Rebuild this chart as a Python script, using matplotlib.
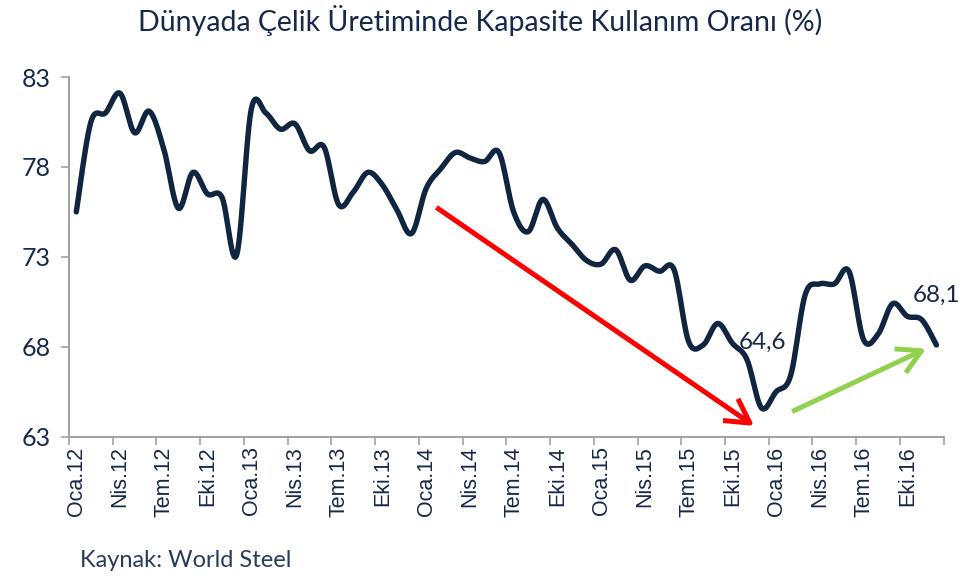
import numpy as np
import matplotlib
matplotlib.use('Agg')
import matplotlib.pyplot as plt

# aylik kapasite kullanim orani, Oca.12 - Ara.16
values = [75.5, 80.5, 81.0, 82.1, 79.9, 81.1, 79.0, 75.7, 77.7, 76.5, 76.3, 73.1,
          81.2, 81.0, 80.1, 80.4, 78.9, 79.1, 75.9, 76.6, 77.7, 77.0, 75.6, 74.3,
          76.8, 77.9, 78.8, 78.5, 78.3, 78.8, 75.5, 74.4, 76.2, 74.6, 73.7, 72.8,
          72.6, 73.4, 71.7, 72.5, 72.2, 72.3, 68.3, 68.1, 69.3, 68.2, 67.3, 64.6,
          65.5, 66.4, 70.9, 71.5, 71.5, 72.2, 68.4, 68.7, 70.4, 69.7, 69.5, 68.1]
tick_labels = ['Oca.12', 'Nis.12', 'Tem.12', 'Eki.12', 'Oca.13', 'Nis.13', 'Tem.13', 'Eki.13',
               'Oca.14', 'Nis.14', 'Tem.14', 'Eki.14', 'Oca.15', 'Nis.15', 'Tem.15', 'Eki.15',
               'Oca.16', 'Nis.16', 'Tem.16', 'Eki.16']
yticks = [63, 68, 73, 78, 83]
labelled = {47: '64,6', 59: '68,1'}
red_arrow = [(24.7, 75.75), (46.5, 63.6)]
green_arrow = [(49.1, 64.4), (58.3, 67.9)]

NAVY = '#0f2540'
TXT = '#17294a'
GRAY = '#a0a0a0'


def smooth(x, y, n=12):
    # excel tarzi yumusatma (bezier, 1/6 kontrol noktalari)
    x = np.asarray(x, float)
    y = np.asarray(y, float)
    px = np.concatenate([[x[0]], x, [x[-1]]])
    py = np.concatenate([[y[0]], y, [y[-1]]])
    xs, ys = [x[0]], [y[0]]
    t = np.linspace(0, 1, n + 1)[1:]
    for i in range(1, len(px) - 2):
        p0 = np.array([px[i], py[i]])
        p3 = np.array([px[i + 1], py[i + 1]])
        c1 = p0 + (p3 - np.array([px[i - 1], py[i - 1]])) / 6
        c2 = p3 - (np.array([px[i + 2], py[i + 2]]) - p0) / 6
        for tt in t:
            b = ((1 - tt) ** 3) * p0 + 3 * ((1 - tt) ** 2) * tt * c1 + 3 * (1 - tt) * tt ** 2 * c2 + tt ** 3 * p3
            xs.append(b[0])
            ys.append(b[1])
    return xs, ys


fig = plt.figure(figsize=(9.61, 5.79), dpi=100)
ax = fig.add_axes([0.0718, 0.2457, 0.9102, 0.6213])

idx = np.arange(len(values))
sx, sy = smooth(idx, values)
ax.plot(sx, sy, color=NAVY, lw=3.9, solid_capstyle='round', solid_joinstyle='round', zorder=3)

for i, txt in labelled.items():
    off = (1, 47) if i == 47 else (0, 36)
    ax.annotate(txt, (i, values[i]), xytext=off, textcoords='offset points',
                ha='center', va='center', fontsize=17.5, color=TXT, family='Lato',
                annotation_clip=False)

for (x0, y0), (x1, y1), c in [(red_arrow[0], red_arrow[1], '#ff0000'),
                              (green_arrow[0], green_arrow[1], '#92d050')]:
    ax.annotate('', xy=(x1, y1), xytext=(x0, y0),
                arrowprops=dict(arrowstyle='->,head_length=1.7,head_width=0.95',
                                color=c, lw=3.6, shrinkA=0, shrinkB=0,
                                mutation_scale=10, capstyle='butt'),
                zorder=4)

ax.set_xlim(-0.5, len(values) - 0.5)
ax.set_ylim(63, 83)
ax.set_yticks(yticks)
ax.set_yticklabels([str(v) for v in yticks], family='Lato', fontsize=18, color=TXT)

ax.set_xticks(np.arange(-0.5, len(values), 3))
ax.set_xticklabels([])
ax.set_xticks(np.arange(0, len(values), 3), minor=True)
ax.set_xticklabels(tick_labels, minor=True, rotation=90, family='Liberation Sans',
                   fontsize=15.5, color=TXT)
ax.tick_params(axis='x', which='major', length=6, width=1.2, color=GRAY, direction='out')
ax.tick_params(axis='x', which='minor', length=0, pad=7)
ax.tick_params(axis='y', length=6, width=1.2, color=GRAY, pad=7)

for s in ['top', 'right']:
    ax.spines[s].set_visible(False)
for s in ['left', 'bottom']:
    ax.spines[s].set_color(GRAY)
    ax.spines[s].set_linewidth(1.4)

fig.text(0.5, 0.964, 'Dünyada Çelik Üretiminde Kapasite Kullanım Oranı (%)', ha='center', va='center',
         family='Lato', fontsize=20.5, color=TXT)
fig.text(0.083, 0.032, 'Kaynak: World Steel', ha='left', va='center', family='Lato',
         fontsize=17, color='#2a3c5c')

fig.savefig('out.png', dpi=100)
